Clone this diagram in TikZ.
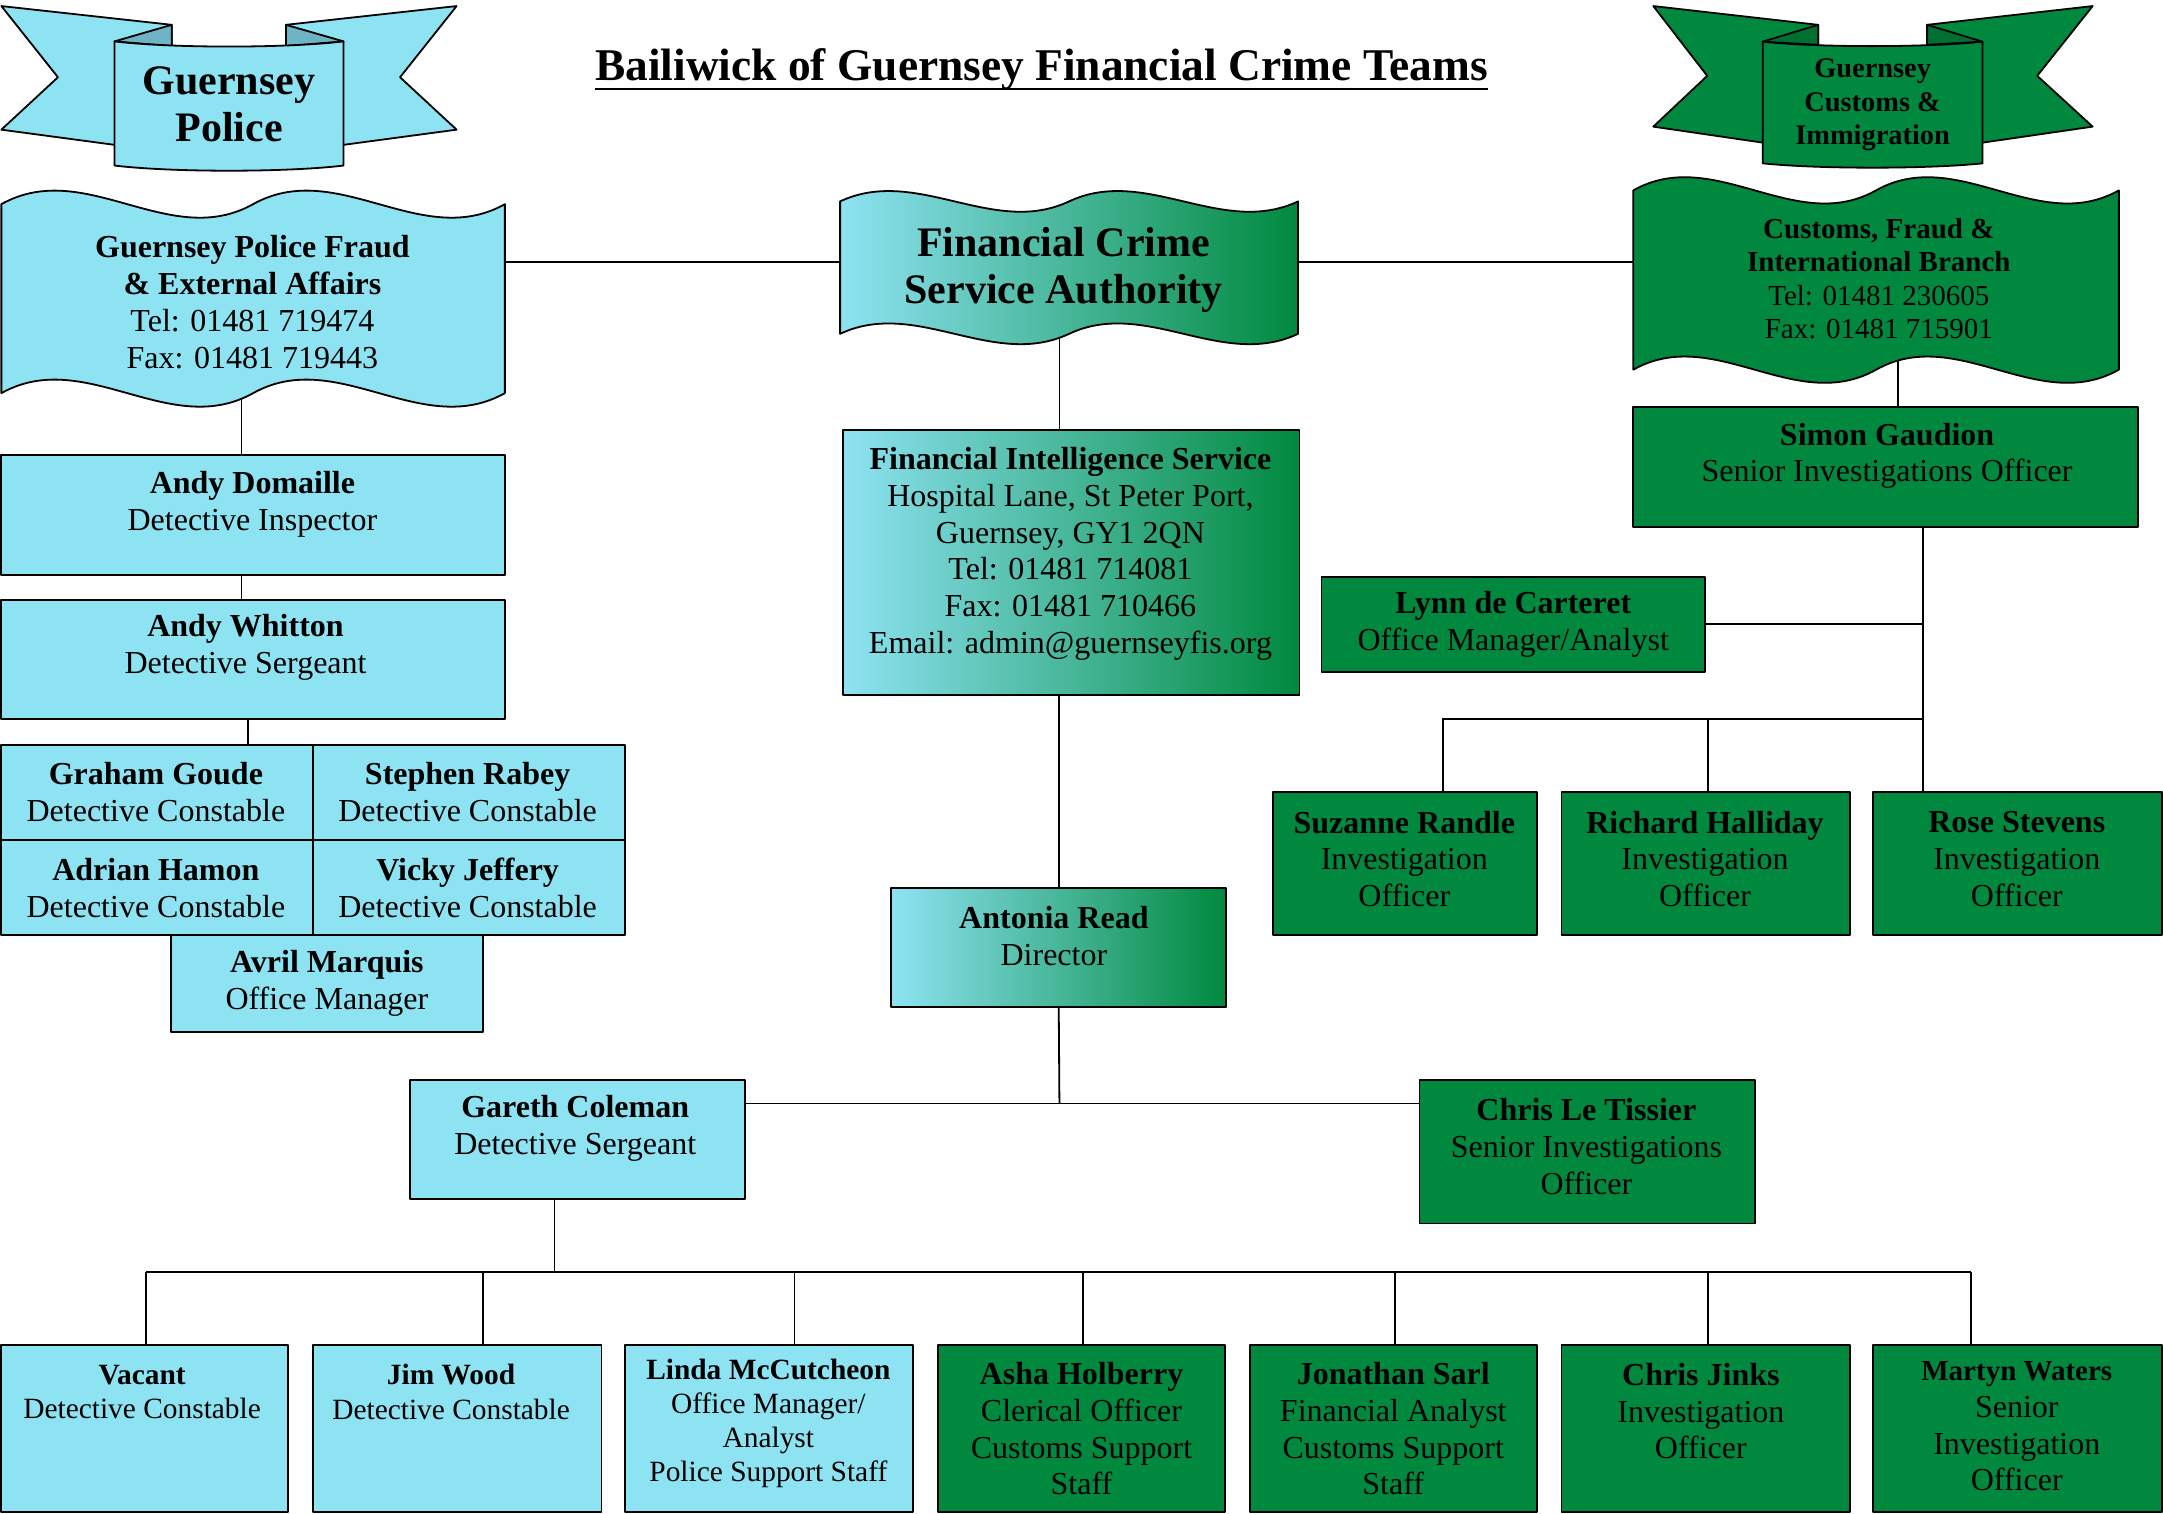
\documentclass[tikz,border=0pt]{standalone}
\usepackage{fontspec}
\setmainfont{Liberation Serif}
\usetikzlibrary{fit,calc,backgrounds}
\definecolor{lb}{RGB}{142,227,243}
\definecolor{gr}{RGB}{0,137,62}
\definecolor{lbd}{RGB}{110,180,196}
\definecolor{grd}{RGB}{0,112,50}
\newcommand{\fs}[2]{\fontsize{#1}{#2}\selectfont}
\newcommand{\wavepath}[6]{%
 \pgfmathsetmacro\wvW{(#3)-(#2)}%
 \pgfmathsetmacro\wvM{((#2)+(#3))/2}%
 \pgfmathsetmacro\wvA{(#2)+\wvW/6}%
 \pgfmathsetmacro\wvB{(#2)+\wvW/3}%
 \pgfmathsetmacro\wvC{\wvM+\wvW/6}%
 \pgfmathsetmacro\wvD{\wvM+\wvW/3}%
 \pgfmathsetmacro\wvTU{(#4)-(#6)}\pgfmathsetmacro\wvTD{(#4)+(#6)}%
 \pgfmathsetmacro\wvBU{(#5)-(#6)}\pgfmathsetmacro\wvBD{(#5)+(#6)}%
 \path[#1] (#2,#4) .. controls (\wvA,\wvTU) and (\wvB,\wvTD) .. (\wvM,#4)
   .. controls (\wvC,\wvTU) and (\wvD,\wvTD) .. (#3,#4) -- (#3,#5)
   .. controls (\wvD,\wvBD) and (\wvC,\wvBU) .. (\wvM,#5)
   .. controls (\wvB,\wvBD) and (\wvA,\wvBU) .. (#2,#5) -- cycle;}
\begin{document}
\begin{tikzpicture}[x=0.68975pt,y=-0.68975pt, line join=round,
  bx/.style={draw=black, line width=0.9pt, inner sep=0pt},
  bbox/.style={bx, fill=lb},
  gbox/.style={bx, fill=gr},
  mbox/.style={bx, left color=lb, right color=gr},
  ghost/.style={inner sep=0pt},
  conn/.style={draw=black, line width=0.9pt},
  edge/.style={draw=black, line width=0.9pt},
  txt/.style={align=center, inner sep=0pt, font=\fs{16}{18.4}},
  stxt/.style={align=center, inner sep=0pt, font=\fs{14.7}{17.2}}]
\useasboundingbox (0,0) rectangle (1568,1097);

% ---------- title
\node[inner sep=0pt, anchor=base, font=\fs{22.7}{27}\bfseries] (title) at (755,58.5) {Bailiwick of Guernsey Financial Crime Teams};
\draw[line width=1.4pt] ($(title.base west)+(0,6)$) -- ($(title.base east)+(0,6)$);

% ---------- Guernsey Police banner
\path[edge, fill=lb] (1,4.4) -- (124.5,18) -- (124.5,105) -- (83,105) -- (1,94) -- (42,56) -- cycle;
\path[edge, fill=lb] (331,4.4) -- (207.3,18) -- (207.3,105) -- (249,105) -- (331,94) -- (290,56) -- cycle;
\path[edge, fill=lbd] (83,30) -- (124.5,18) -- (124.5,33.5) -- cycle;
\path[edge, fill=lbd] (249,30) -- (207.3,18) -- (207.3,33.5) -- cycle;
\path[edge, fill=lb] (83,30) .. controls (124,35) and (208,35) .. (249,30) -- (249,120) .. controls (208,125) and (124,125) .. (83,120) -- cycle;
\node[align=center, inner sep=0pt, font=\fs{21}{23.5}\bfseries] (gpt) at (166,75.5) {Guernsey\\Police};

% ---------- Customs banner
\path[edge, fill=gr] (1198.5,4.4) -- (1318,18) -- (1318,103.4) -- (1277.8,103.4) -- (1198.5,91.8) -- (1237.6,55) -- cycle;
\path[edge, fill=gr] (1517,4.4) -- (1397,18) -- (1397,103.4) -- (1437.2,103.4) -- (1517,91.8) -- (1476.8,55) -- cycle;
\path[edge, fill=grd] (1277.8,30.2) -- (1318,18) -- (1318,32.5) -- cycle;
\path[edge, fill=grd] (1437.2,30.2) -- (1397,18) -- (1397,32.5) -- cycle;
\path[edge, fill=gr] (1277.8,30.2) .. controls (1318,34.5) and (1397,34.5) .. (1437.2,30.2) -- (1437.2,118.4) .. controls (1397,122.6) and (1318,122.6) .. (1277.8,118.4) -- cycle;
\node[align=center, inner sep=0pt, font=\fs{14.2}{16.8}\bfseries] (gct) at (1357.5,76) {Guernsey\\Customs \&\\Immigration};

% ---------- wave shapes
\node[ghost, fit={(1,148) (366,285)}] (pfw) {};
\node[ghost, fit={(609,140) (941,240)}] (fcsa) {};
\node[ghost, fit={(1184,140) (1536,240)}] (cfw) {};
\wavepath{edge, fill=lb}{1}{366}{148}{285}{34}
\wavepath{edge, left color=lb, right color=gr}{609}{941}{146}{242}{26}
\wavepath{edge, fill=gr}{1184}{1536}{138}{268}{33}
\node[txt] (pft) at (183,219) {\textbf{Guernsey Police Fraud}\\\textbf{\& External Affairs}\\Tel: 01481 719474\\Fax: 01481 719443};
\node[align=center, inner sep=0pt, font=\fs{21}{23.3}\bfseries] (fct) at (771,195.7) {Financial Crime\\Service Authority};
\node[align=center, inner sep=0pt, font=\fs{14.5}{16.6}] (cft) at (1362,202) {\textbf{Customs, Fraud \&}\\\textbf{International Branch}\\Tel: 01481 230605\\Fax: 01481 715901};

% ---------- boxes
\node[bbox, fit={(1,330) (366,417)}] (dom) {};
\node[bbox, fit={(1,435) (366,521)}] (whi) {};
\node[bbox, fit={(1,540) (227,609)}] (gg) {};
\node[bbox, fit={(227,540) (453,609)}] (sr) {};
\node[bbox, fit={(1,609) (227,678)}] (ah) {};
\node[bbox, fit={(227,609) (453,678)}] (vj) {};
\node[bbox, fit={(124,678) (350,748)}] (am) {};
\node[mbox, fit={(611,312) (942,504)}] (fis) {};
\node[mbox, fit={(646,644) (889,730)}] (ar) {};
\node[bbox, fit={(297,783) (540,869)}] (gc) {};
\node[gbox, fit={(1029,783) (1272,887)}] (clt) {};
\node[gbox, fit={(1184,295) (1550,382)}] (sg) {};
\node[gbox, fit={(958,418) (1236,487)}] (lyn) {};
\node[gbox, fit={(923,574) (1114,678)}] (sur) {};
\node[gbox, fit={(1132,574) (1341,678)}] (rh) {};
\node[gbox, fit={(1358,574) (1567,678)}] (rs) {};
\node[bbox, fit={(1,975) (209,1096)}] (vac) {};
\node[bbox, fit={(227,975) (436,1096)}] (jw) {};
\node[bbox, fit={(453,975) (662,1096)}] (lm) {};
\node[gbox, fit={(680,975) (888,1096)}] (asha) {};
\node[gbox, fit={(906,975) (1114,1096)}] (js) {};
\node[gbox, fit={(1132,975) (1341,1096)}] (cj) {};
\node[gbox, fit={(1358,975) (1567,1096)}] (mw) {};

% ---------- box texts
\node[txt] (dom-t) at (183,365.5) {\textbf{Andy Domaille}\\Detective Inspector};
\node[txt] (whi-t) at (178,469.5) {\textbf{Andy Whitton}\\Detective Sergeant};
\node[txt] (gg-t) at (113,574) {\textbf{Graham Goude}\\Detective Constable};
\node[txt] (sr-t) at (339,574) {\textbf{Stephen Rabey}\\Detective Constable};
\node[txt] (ah-t) at (113,643.5) {\textbf{Adrian Hamon}\\Detective Constable};
\node[txt] (vj-t) at (339,643.5) {\textbf{Vicky Jeffery}\\Detective Constable};
\node[txt] (am-t) at (237,713) {\textbf{Avril Marquis}\\Office Manager};
\node[txt] (fis-t) at (776,401.5) {\textbf{Financial Intelligence Service}\\Hospital Lane, St Peter Port,\\Guernsey, GY1 2QN\\Tel: 01481 714081\\Fax: 01481 710466\\Email: admin@guernseyfis.org};
\node[txt] (ar-t) at (764,678.5) {\textbf{Antonia Read}\\Director};
\node[txt] (gc-t) at (417,818) {\textbf{Gareth Coleman}\\Detective Sergeant};
\node[txt] (clt-t) at (1150,831) {\textbf{Chris Le Tissier}\\Senior Investigations\\Officer};
\node[txt] (sg-t) at (1368,330.5) {\textbf{Simon Gaudion}\\Senior Investigations Officer};
\node[txt] (lyn-t) at (1097,452.5) {\textbf{Lynn de Carteret}\\Office Manager/Analyst};
\node[txt] (sur-t) at (1018,622.7) {\textbf{Suzanne Randle}\\Investigation\\Officer};
\node[txt] (rh-t) at (1236,622.7) {\textbf{Richard Halliday}\\Investigation\\Officer};
\node[txt] (rs-t) at (1462,622.7) {\textbf{Rose Stevens}\\Investigation\\Officer};
\node[stxt] (vac-t) at (103,1009) {\textbf{Vacant}\\Detective Constable};
\node[stxt] (jw-t) at (327,1009) {\textbf{Jim Wood}\\Detective Constable};
\node[align=center, inner sep=0pt, font=\fs{14.7}{17}] (lm-t) at (557,1031.75) {\textbf{Linda McCutcheon}\\Office Manager/\\Analyst\\Police Support Staff};
\node[txt] (asha-t) at (784,1035.75) {\textbf{Asha Holberry}\\Clerical Officer\\Customs Support\\Staff};
\node[txt] (js-t) at (1010,1035.75) {\textbf{Jonathan Sarl}\\Financial Analyst\\Customs Support\\Staff};
\node[txt] (cj-t) at (1233,1023) {\textbf{Chris Jinks}\\Investigation\\Officer};
\node[txt] (mw-t) at (1462,1034) {{\fs{14.5}{17}\bfseries Martyn Waters}\\Senior\\Investigation\\Officer};

% ---------- connectors (behind shapes)
\begin{scope}[on background layer]
\coordinate (pw-s) at (175,280);
\draw[conn] (pw-s) -- (pw-s |- dom.north);
\coordinate (pc1) at (175,420);
\draw[conn] (dom.south -| pc1) -- (whi.north -| pc1);
\coordinate (pc2) at (180,530);
\draw[conn] (whi.south -| pc2) -- (gg.north -| pc2);
\draw[conn] (pfw.east |- fcsa.west) -- (fcsa.west);
\draw[conn] (fcsa.east) -- (fcsa.east -| cfw.west);
\coordinate (fc-s) at (768,235);
\draw[conn] (fc-s) -- (fc-s |- fis.north);
\draw[conn] (fis.south -| ar.north) -- (ar.north);
\coordinate (dj) at (768,800);
\draw[conn] (ar.south) -- (dj);
\draw[conn] (gc.east |- dj) -- (clt.west |- dj);
\coordinate (bus) at (402,922);
\draw[conn] (bus |- gc.south) -- (bus);
\coordinate (b1) at (106,922);
\coordinate (b2) at (350,922);
\coordinate (b3) at (576,922);
\coordinate (b4) at (785,922);
\coordinate (b5) at (1011,922);
\coordinate (b6) at (1238,922);
\coordinate (b7) at (1429,922);
\draw[conn] (b1) -- (b7);
\foreach \c/\n in {b1/vac,b2/jw,b3/lm,b4/asha,b5/js,b6/cj,b7/mw}
  \draw[conn] (\c) -- (\c |- \n.north);
\coordinate (cw-s) at (1376,262);
\draw[conn] (cw-s) -- (cw-s |- sg.north);
\coordinate (rj) at (1394,385);
\draw[conn] (sg.south -| rj) -- (rs.north -| rj);
\draw[conn] (lyn.east) -- (lyn.east -| rj);
\coordinate (s0) at (1394,521);
\coordinate (s1) at (1046,521);
\coordinate (s2) at (1238,521);
\draw[conn] (s0) -- (s1) -- (s1 |- sur.north);
\draw[conn] (s2) -- (s2 |- rh.north);
\end{scope}
\end{tikzpicture}
\end{document}
